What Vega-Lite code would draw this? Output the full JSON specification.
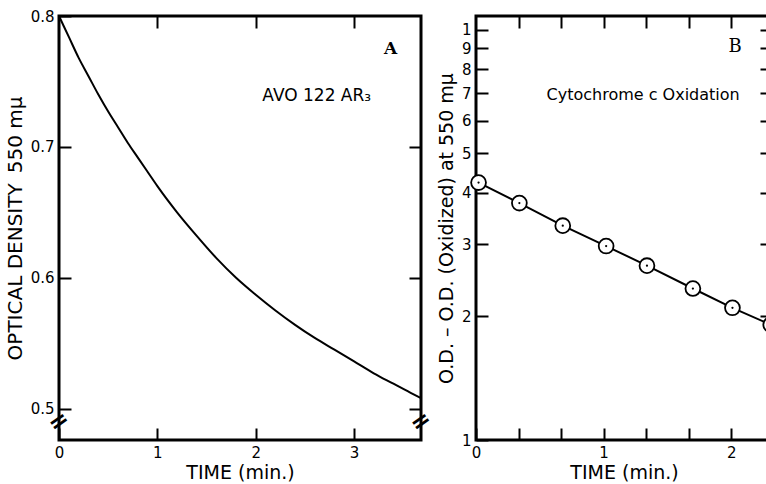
{
  "$schema": "https://vega.github.io/schema/vega-lite/v6.json",
  "padding": {"left": 3, "top": 7, "right": 0, "bottom": 0},
  "bounds": "flush",
  "spacing": 55,
  "config": {
    "view": {"stroke": "black", "strokeWidth": 3},
    "font": "DejaVu Sans",
    "axis": {
      "domain": false, "grid": false,
      "tickColor": "black", "tickWidth": 2, "tickSize": -12,
      "labelColor": "black", "labelFontSize": 15, "labelPadding": 17,
      "labelFlush": false, "labelOverlap": false,
      "titleColor": "black", "titleFontSize": 19, "titleFontWeight": "normal", "titlePadding": 5
    },
    "axisX": {"labelPadding": 17, "titlePadding": 3}
  },
  "datasets": {
    "curveA": [
      {"time": 0.0, "od": 0.800}, {"time": 0.1, "od": 0.784}, {"time": 0.2, "od": 0.768},
      {"time": 0.3, "od": 0.754}, {"time": 0.4, "od": 0.740}, {"time": 0.5, "od": 0.727},
      {"time": 0.6, "od": 0.715}, {"time": 0.7, "od": 0.703}, {"time": 0.8, "od": 0.692},
      {"time": 0.9, "od": 0.681}, {"time": 1.0, "od": 0.670}, {"time": 1.2, "od": 0.650},
      {"time": 1.4, "od": 0.632}, {"time": 1.6, "od": 0.615}, {"time": 1.8, "od": 0.600},
      {"time": 2.0, "od": 0.587}, {"time": 2.2, "od": 0.575}, {"time": 2.4, "od": 0.564},
      {"time": 2.6, "od": 0.554}, {"time": 2.8, "od": 0.545}, {"time": 3.0, "od": 0.536},
      {"time": 3.2, "od": 0.527}, {"time": 3.4, "od": 0.519}, {"time": 3.6, "od": 0.511},
      {"time": 3.68, "od": 0.508}
    ],
    "pointsB": [
      {"time": 0.02, "od": 4.24}, {"time": 0.34, "od": 3.78}, {"time": 0.68, "od": 3.33},
      {"time": 1.02, "od": 2.97}, {"time": 1.34, "od": 2.66}, {"time": 1.70, "od": 2.34},
      {"time": 2.01, "od": 2.10}, {"time": 2.31, "od": 1.91}
    ],
    "one": [{}]
  },
  "hconcat": [
    {
      "width": 362, "height": 424,
      "resolve": {"axis": {"x": "independent", "y": "independent"}},
      "layer": [
        {
          "data": {"name": "curveA"},
          "mark": {"type": "line", "color": "black", "strokeWidth": 2, "interpolate": "monotone"},
          "encoding": {
            "x": {"field": "time", "type": "quantitative",
                  "scale": {"domain": [0, 3.68], "nice": false, "zero": false},
                  "axis": {"orient": "bottom", "values": [0, 1, 2, 3], "format": "d", "title": "TIME (min.)"}},
            "y": {"field": "od", "type": "quantitative",
                  "scale": {"domain": [0.476, 0.8], "nice": false, "zero": false},
                  "axis": {"orient": "left", "values": [0.5, 0.6, 0.7, 0.8], "format": ".1f", "title": "OPTICAL DENSITY\u2002550 m\u03bc", "titleFontSize": 20}}
          }
        },
        {
          "data": {"name": "curveA"},
          "mark": {"type": "line", "opacity": 0},
          "encoding": {
            "x": {"field": "time", "type": "quantitative",
                  "axis": {"orient": "top", "values": [1, 2, 3], "labels": false, "title": null}},
            "y": {"field": "od", "type": "quantitative",
                  "axis": {"orient": "right", "values": [0.5, 0.6, 0.7], "labels": false, "title": null}}
          }
        },
        {
          "data": {"name": "one"},
          "mark": {"type": "text", "text": "A", "fontSize": 17, "fontWeight": "bold", "font": "DejaVu Serif", "color": "black"},
          "encoding": {"x": {"datum": 3.37, "type": "quantitative", "axis": null}, "y": {"datum": 0.775, "type": "quantitative", "axis": null}}
        },
        {
          "data": {"name": "one"},
          "mark": {"type": "text", "text": "AVO 122 AR\u2083", "fontSize": 17, "color": "black"},
          "encoding": {"x": {"datum": 2.62, "type": "quantitative", "axis": null}, "y": {"datum": 0.739, "type": "quantitative", "axis": null}}
        },
        {
          "data": {"name": "one"},
          "mark": {"type": "text", "text": "=", "fontSize": 24, "fontWeight": "bold", "angle": -35, "color": "black"},
          "encoding": {"x": {"datum": 0, "type": "quantitative", "axis": null}, "y": {"datum": 0.4897, "type": "quantitative", "axis": null}}
        },
        {
          "data": {"name": "one"},
          "mark": {"type": "text", "text": "=", "fontSize": 24, "fontWeight": "bold", "angle": -35, "color": "black"},
          "encoding": {"x": {"datum": 3.68, "type": "quantitative", "axis": null}, "y": {"datum": 0.4897, "type": "quantitative", "axis": null}}
        }
      ]
    },
    {
      "width": 296, "height": 424,
      "resolve": {"axis": {"x": "independent", "y": "independent"}},
      "layer": [
        {
          "data": {"name": "pointsB"},
          "mark": {"type": "line", "color": "black", "strokeWidth": 2},
          "encoding": {
            "x": {"field": "time", "type": "quantitative",
                  "scale": {"domain": [0, 2.32], "nice": false, "zero": false},
                  "axis": {"orient": "bottom", "values": [0, 0.3333, 0.6667, 1, 1.3333, 1.6667, 2],
                           "labelExpr": "abs(datum.value - round(datum.value)) < 0.01 ? format(datum.value, 'd') : ''",
                           "title": "TIME (min.)"}},
            "y": {"field": "od", "type": "quantitative",
                  "scale": {"type": "log", "domain": [1, 10.8], "nice": false, "zero": false},
                  "axis": {"orient": "left", "values": [1, 2, 3, 4, 5, 6, 7, 8, 9, 10],
                           "labelExpr": "datum.value == 10 ? '1' : format(datum.value, 'd')",
                           "title": "O.D. \u2013 O.D. (Oxidized) at 550 m\u03bc"}}
          }
        },
        {
          "data": {"name": "pointsB"},
          "mark": {"type": "point", "shape": "circle", "size": 220, "filled": false, "fill": "white", "fillOpacity": 1, "stroke": "black", "strokeWidth": 1.8, "opacity": 1},
          "encoding": {
            "x": {"field": "time", "type": "quantitative",
                  "axis": {"orient": "top", "values": [0.3333, 0.6667, 1, 1.3333, 1.6667, 2], "labels": false, "title": null}},
            "y": {"field": "od", "type": "quantitative",
                  "axis": {"orient": "right", "values": [2, 3, 4, 5, 6, 7, 8, 9, 10], "labels": false, "title": null}}
          }
        },
        {
          "data": {"name": "pointsB"},
          "mark": {"type": "point", "shape": "circle", "size": 5, "filled": true, "color": "black", "opacity": 1},
          "encoding": {
            "x": {"field": "time", "type": "quantitative", "axis": null},
            "y": {"field": "od", "type": "quantitative", "axis": null}
          }
        },
        {
          "data": {"name": "one"},
          "mark": {"type": "text", "text": "B", "fontSize": 18, "font": "DejaVu Serif", "color": "black"},
          "encoding": {"x": {"datum": 2.03, "type": "quantitative", "axis": null}, "y": {"datum": 9.09, "type": "quantitative", "axis": null}}
        },
        {
          "data": {"name": "one"},
          "mark": {"type": "text", "text": "Cytochrome c Oxidation", "fontSize": 16, "color": "black"},
          "encoding": {"x": {"datum": 1.31, "type": "quantitative", "axis": null}, "y": {"datum": 6.94, "type": "quantitative", "axis": null}}
        }
      ]
    }
  ]
}
